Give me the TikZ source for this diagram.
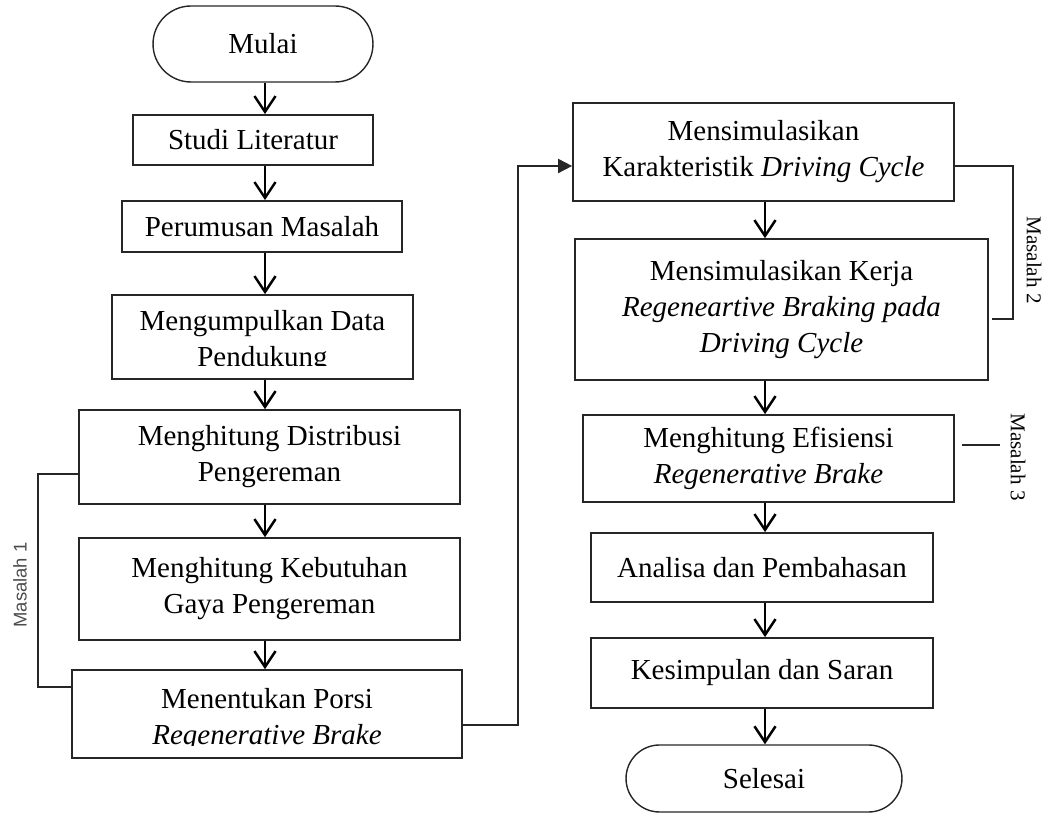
\documentclass[tikz,border=0pt]{standalone}
\usepackage{fontspec}
\setmainfont{Liberation Serif}
\newfontfamily\labelsans{Liberation Sans}
\usetikzlibrary{arrows.meta,shapes.misc}

\begin{document}
\begin{tikzpicture}[x=0.02cm,y=-0.02cm,
  font=\fontsize{16.5}{20.5}\selectfont,
  box/.style={draw=black!85,line width=1pt,rectangle,align=center,inner sep=0pt},
  term/.style={draw=black!85,line width=0.8pt,rounded rectangle,align=center,inner sep=0pt},
  txt/.style={align=center,inner sep=0pt},
  arr/.style={-{Straight Barb[length=9pt,width=12pt]},line width=1.4pt},
  link/.style={draw=black!85,line width=1pt},
  tag/.style={font=\fontsize{12}{14}\selectfont}]
\useasboundingbox (0,0) rectangle (1046,817);
\coordinate (lc) at (265,0);
\coordinate (rc) at (765,0);
%left column
\node[term,minimum width=4.4cm,minimum height=1.52cm] (mulai) at (263,44) {Mulai};
\node[box,minimum width=4.8cm,minimum height=1cm] (studi) at (253,140) {Studi Literatur};
\node[box,minimum width=5.6cm,minimum height=1.02cm] (rumus) at (262,226.5) {Perumusan Masalah};
\node[box,minimum width=6.02cm,minimum height=1.68cm] (data) at (262.5,337) {};
\begin{scope}
\clip (112,295) rectangle (413,366);
\node[txt] (datatxt) at (262.5,342) {Mengumpulkan Data\\Pendukung};
\end{scope}
\node[box,minimum width=7.62cm,minimum height=1.88cm] (distri) at (269.5,457) {Menghitung Distribusi\\Pengereman};
\node[box,minimum width=7.62cm,minimum height=2.04cm] (gaya) at (269.5,589) {Menghitung Kebutuhan\\Gaya Pengereman};
\node[box,minimum width=7.8cm,minimum height=1.76cm] (porsi) at (267,714) {};
\begin{scope}
\clip (72,670) rectangle (462,746);
\node[txt] (porsitxt) at (267,720) {Menentukan Porsi\\\textit{Regenerative Brake}};
\end{scope}
%right column
\node[box,minimum width=7.62cm,minimum height=1.96cm] (kar) at (763.5,152) {Mensimulasikan\\Karakteristik \textit{Driving Cycle}};
\node[box,minimum width=8.26cm,minimum height=2.82cm] (kerja) at (781.5,309.5) {Mensimulasikan Kerja\\\textit{Regeneartive Braking pada}\\\textit{Driving Cycle}};
\node[box,minimum width=7.42cm,minimum height=1.74cm] (efis) at (768.5,458.5) {Menghitung Efisiensi\\\textit{Regenerative Brake}};
\node[box,minimum width=6.84cm,minimum height=1.38cm] (anal) at (762,567.5) {Analisa dan Pembahasan};
\node[box,minimum width=6.84cm,minimum height=1.4cm] (kesi) at (762,673) {Kesimpulan dan Saran};
\node[term,minimum width=5.52cm,minimum height=1.34cm] (sele) at (764,778.5) {Selesai};
%arrows
\draw[arr] (lc |- mulai.south) -- (lc |- studi.north);
\draw[arr] (lc |- studi.south) -- (lc |- rumus.north);
\draw[arr] (lc |- rumus.south) -- (lc |- data.north);
\draw[arr] (lc |- data.south) -- (lc |- distri.north);
\draw[arr] (lc |- distri.south) -- (lc |- gaya.north);
\draw[arr] (lc |- gaya.south) -- (lc |- porsi.north);
\draw[arr] (rc |- kar.south) -- (rc |- kerja.north);
\draw[arr] (rc |- kerja.south) -- (rc |- efis.north);
\draw[arr] (rc |- efis.south) -- (rc |- anal.north);
\draw[arr] (rc |- anal.south) -- (rc |- kesi.north);
\draw[arr] (rc |- kesi.south) -- (rc |- sele.north);
\draw[link,-{Triangle[length=8pt,width=8pt]}] (porsi.east |- 0,725) -- (518,725) -- (518,166) -- (kar.west |- 0,166);
%masalah brackets
\draw[link] (distri.west |- 0,474) -- (38,474) -- (38,687) -- (porsi.west |- 0,687);
\node[rotate=90,font=\labelsans\fontsize{10.5}{12}\selectfont,text=black!70] (m1) at (20,585) {Masalah 1};
\draw[link] (kar.east |- 0,166) -- (1013,166) -- (1013,319) -- (992,319);
\node[tag,rotate=-90] (m2) at (1034,260) {Masalah 2};
\draw[link] (962,445) -- (1000,445);
\node[tag,rotate=-90] (m3) at (1018,457) {Masalah 3};
\end{tikzpicture}
\end{document}
